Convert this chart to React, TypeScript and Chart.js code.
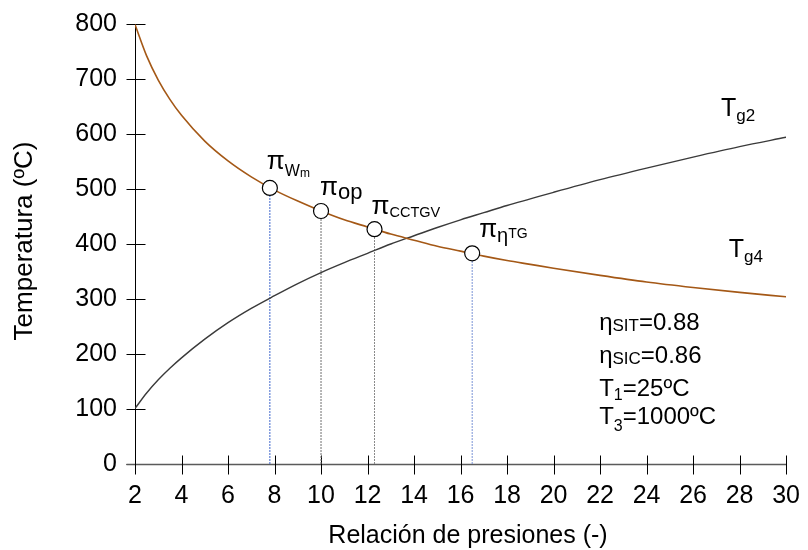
import React, { useEffect, useRef } from 'react';
import { Chart, registerables } from 'chart.js';

Chart.register(...registerables);

// ---- data ----
const piValues = [2, 2.5, 3, 3.5, 4, 5, 6, 7, 8, 9, 10, 11, 12, 13, 14, 15, 16, 17, 18, 19, 20, 22, 24, 26, 28, 30];
const tg2Values = [101, 129, 153, 174, 193, 227, 257, 283, 306, 328, 348, 366, 383, 400, 415, 430, 444, 457, 470, 482, 494, 517, 538, 558, 577, 594];
const tg4Values = [799, 742, 698, 663, 634, 587, 551, 522, 498, 478, 460, 444, 431, 418, 407, 396, 387, 378, 370, 363, 356, 343, 331, 321, 312, 304];

const markerNames = ['Wm', 'op', 'CCTGV', 'ηTG'];
const markerX = [7.8, 10.0, 12.3, 16.5];
const markerY = [502, 460, 427, 383];
const markerLineColors = ['#3f66cc', '#6e6e6e', '#8a8a8a', '#7a93d6'];

const xTickValues = [2, 4, 6, 8, 10, 12, 14, 16, 18, 20, 22, 24, 26, 28, 30];
const yTickValues = [0, 100, 200, 300, 400, 500, 600, 700, 800];

const xTitle = 'Relación de presiones (-)';
const yTitle = 'Temperatura (ºC)';

const FAMILY = '"Liberation Sans", Arial, Helvetica, sans-serif';
const BROWN = 'rgb(164, 88, 22)';
const GRAY = '#3a3a3a';

type Run = { t: string; size: number; dy?: number };

function font(size: number) {
  return `${size}px ${FAMILY}`;
}

function drawRuns(ctx: CanvasRenderingContext2D, x: number, y: number, runs: Run[]) {
  let cx = x;
  for (const r of runs) {
    ctx.font = font(r.size);
    ctx.fillText(r.t, cx, y + (r.dy || 0));
    cx += ctx.measureText(r.t).width;
  }
}

// label layouts for the π markers (offsets from marker centre, in px)
function markerLabelRuns(name: string): { dx: number; dy: number; runs: Run[] } {
  const pi: Run = { t: 'π', size: 26 };
  switch (name) {
    case 'Wm':
      return { dx: -3, dy: -19, runs: [pi, { t: 'W', size: 16, dy: 7 }, { t: 'm', size: 12, dy: 8 }] };
    case 'op':
      return { dx: -1, dy: -16, runs: [pi, { t: 'op', size: 22, dy: 4 }] };
    case 'CCTGV':
      return { dx: -3, dy: -15, runs: [pi, { t: 'CCTGV', size: 14.5, dy: 3 }] };
    default:
      return { dx: 7, dy: -16, runs: [pi, { t: 'η', size: 20, dy: 5 }, { t: 'TG', size: 14, dy: 1 }] };
  }
}

const overlayPlugin = {
  id: 'overlay',
  beforeDatasetsDraw(chart: any) {
    const ctx: CanvasRenderingContext2D = chart.ctx;
    const xs = chart.scales.x;
    const ys = chart.scales.y;
    const left = Math.round(xs.getPixelForValue(xTickValues[0])) + 0.5;
    const right = Math.round(xs.getPixelForValue(xTickValues[xTickValues.length - 1]));
    const bottom = Math.round(ys.getPixelForValue(0)) + 0.5;
    const top = Math.round(ys.getPixelForValue(800));
    ctx.save();
    // y axis
    ctx.strokeStyle = '#000';
    ctx.lineWidth = 1;
    ctx.beginPath();
    ctx.moveTo(left, top);
    ctx.lineTo(left, bottom);
    ctx.stroke();
    for (const v of yTickValues) {
      const py = Math.round(ys.getPixelForValue(v)) + 0.5;
      ctx.beginPath();
      ctx.moveTo(left - 9, py);
      ctx.lineTo(left + 10, py);
      ctx.stroke();
    }
    // x axis
    ctx.strokeStyle = '#5a5a5a';
    ctx.lineWidth = 1.5;
    ctx.beginPath();
    ctx.moveTo(left - 9, bottom);
    ctx.lineTo(right, bottom);
    ctx.stroke();
    ctx.strokeStyle = '#000';
    ctx.lineWidth = 1;
    for (const v of xTickValues) {
      const px = Math.round(xs.getPixelForValue(v)) + 0.5;
      ctx.beginPath();
      ctx.moveTo(px, bottom - 9);
      ctx.lineTo(px, bottom + 10);
      ctx.stroke();
    }
    ctx.restore();
  },
  afterDraw(chart: any) {
    const ctx: CanvasRenderingContext2D = chart.ctx;
    const xs = chart.scales.x;
    const ys = chart.scales.y;
    const P = (x: number, y: number) => [xs.getPixelForValue(x), ys.getPixelForValue(y)];
    ctx.save();
    ctx.fillStyle = '#000';
    ctx.textAlign = 'left';
    ctx.textBaseline = 'alphabetic';

    // π marker labels
    markerNames.forEach((name, i) => {
      const [px, py] = P(markerX[i], markerY[i]);
      const l = markerLabelRuns(name);
      drawRuns(ctx, px + l.dx, py + l.dy, l.runs);
    });

    // curve labels
    {
      const [x2, y2] = P(27.2, 633);
      drawRuns(ctx, x2, y2, [{ t: 'T', size: 25 }, { t: 'g2', size: 17, dy: 5 }]);
      const [x4, y4] = P(27.53, 376);
      drawRuns(ctx, x4, y4, [{ t: 'T', size: 25 }, { t: 'g4', size: 17, dy: 5 }]);
    }

    // parameter block
    {
      const tx = 21.96;
      let [bx, by] = P(tx, 243);
      drawRuns(ctx, bx, by, [{ t: 'η', size: 24 }, { t: 'SIT', size: 17, dy: 1 }, { t: '=0.88', size: 24 }]);
      [bx, by] = P(tx, 183);
      drawRuns(ctx, bx, by, [{ t: 'η', size: 24 }, { t: 'SIC', size: 17, dy: 1 }, { t: '=0.86', size: 24 }]);
      [bx, by] = P(tx, 123);
      drawRuns(ctx, bx, by, [{ t: 'T', size: 24 }, { t: '1', size: 16, dy: 4 }, { t: '=25ºC', size: 24 }]);
      [bx, by] = P(tx, 72.6);
      drawRuns(ctx, bx, by, [{ t: 'T', size: 24 }, { t: '3', size: 16, dy: 7 }, { t: '=1000ºC', size: 24 }]);
    }

    // axis titles
    ctx.textAlign = 'center';
    ctx.font = font(25);
    ctx.fillText(xTitle, 468, 543);
    ctx.save();
    ctx.font = font(26);
    ctx.translate(32, 241);
    ctx.rotate(-Math.PI / 2);
    ctx.fillText(yTitle, 0, 0);
    ctx.restore();

    ctx.restore();
  },
};

export default function App() {
  const canvasRef = useRef<HTMLCanvasElement | null>(null);

  useEffect(() => {
    const canvas = canvasRef.current;
    if (!canvas) return;

    const dropLines = markerX.map((x, i) => ({
      label: 'drop' + i,
      data: [
        { x, y: 0 },
        { x, y: markerY[i] },
      ],
      showLine: true,
      borderColor: markerLineColors[i],
      borderWidth: 1,
      borderDash: [2, 1],
      pointRadius: 0,
    }));

    const chart = new Chart(canvas, {
      type: 'scatter',
      data: {
        datasets: [
          {
            label: 'points',
            data: markerX.map((x, i) => ({ x, y: markerY[i] })),
            showLine: false,
            pointRadius: 7.5,
            pointBackgroundColor: '#ffffff',
            pointBorderColor: '#000000',
            pointBorderWidth: 1.2,
          },
          {
            label: 'Tg4',
            data: piValues.map((x, i) => ({ x, y: tg4Values[i] })),
            showLine: true,
            borderColor: BROWN,
            borderWidth: 1.6,
            pointRadius: 0,
            cubicInterpolationMode: 'monotone',
          },
          {
            label: 'Tg2',
            data: piValues.map((x, i) => ({ x, y: tg2Values[i] })),
            showLine: true,
            borderColor: GRAY,
            borderWidth: 1.4,
            pointRadius: 0,
            cubicInterpolationMode: 'monotone',
          },
          ...dropLines,
        ] as any,
      },
      options: {
        responsive: false,
        animation: false,
        events: [],
        layout: { padding: { top: 23, right: 15, left: 0, bottom: 0 } },
        plugins: {
          legend: { display: false },
          tooltip: { enabled: false },
        },
        scales: {
          x: {
            type: 'linear',
            min: 2,
            max: 30,
            afterBuildTicks: (s: any) => {
              s.ticks = xTickValues.map((v) => ({ value: v }));
            },
            afterFit: (s: any) => {
              s.height = 86;
            },
            grid: { display: false, drawTicks: true, tickLength: 9 },
            border: { display: false },
            ticks: {
              padding: 8,
              color: '#000',
              font: { family: FAMILY, size: 25 },
              maxRotation: 0,
              autoSkip: false,
            },
          },
          y: {
            type: 'linear',
            min: 0,
            max: 800,
            afterBuildTicks: (s: any) => {
              s.ticks = yTickValues.map((v) => ({ value: v }));
            },
            afterFit: (s: any) => {
              s.width = 135;
            },
            grid: { display: false, drawTicks: true, tickLength: 9 },
            border: { display: false },
            ticks: {
              padding: 9,
              color: '#000',
              font: { family: FAMILY, size: 25 },
              autoSkip: false,
            },
          },
        },
      } as any,
      plugins: [overlayPlugin],
    });

    return () => {
      chart.destroy();
    };
  }, []);

  return (
    <div style={{ position: 'fixed', left: 0, top: 0, width: 808, height: 550, background: '#fff' }}>
      <canvas ref={canvasRef} width={808} height={550} style={{ display: 'block' }} />
    </div>
  );
}
